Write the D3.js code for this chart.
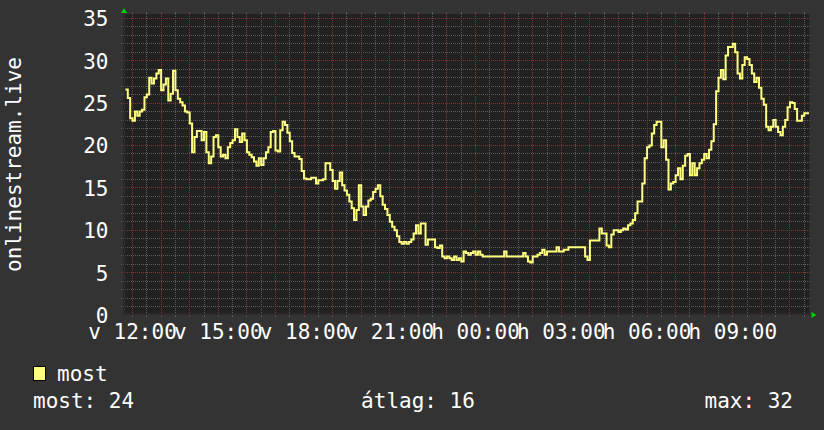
<!DOCTYPE html>
<html>
<head>
<meta charset="utf-8">
<script src="https://cdn.jsdelivr.net/npm/d3@7"></script>
<style>
    html, body { margin: 0; padding: 0; background: #333333; }
    svg { display: block; }
    text { font-family: "DejaVu Sans Mono", monospace; fill: #ffffff; }
</style>
</head>
<body>
<svg id="chart" width="824" height="430"></svg>
<script>
/* ============================================
   onlinestream.live - nézők száma (24 óra)
   ============================================ */

// 5 perces minták, első minta 11:45-kor (vasárnap)
const startTime = Date.UTC(2024, 5, 9, 11, 45);
const stepMinutes = 5;

// soronként egy óra (12 minta)
const values = [
    26.6, 25.6, 23.2, 22.9, 24, 23.5, 24, 24.2, 25.7, 26, 28, 27.3,
    27.9, 28.5, 28.9, 26.5, 27.2, 27.9, 25.3, 26.1, 28.8, 26.5, 25.5, 25.1,
    24.7, 24, 23.9, 22.6, 19.2, 21, 21.7, 21.7, 20.6, 21.6, 19.2, 17.9,
    18.7, 21, 21.2, 19.8, 18.7, 18.9, 18.5, 19.8, 20.3, 20.6, 21.9, 21,
    20.4, 21.4, 20.6, 19.2, 18.9, 18.6, 18.1, 17.6, 18.5, 17.7, 18.5, 19.2,
    19.8, 21.6, 21.7, 19.4, 19.3, 21.8, 22.8, 22.4, 21.5, 20.5, 19.1, 18.7,
    18.7, 18.4, 17, 16.1, 16, 16, 16.2, 16.2, 15.5, 15.9, 15.9, 16,
    17.9, 17.9, 17.1, 15.8, 14.9, 15.8, 16.8, 15.3, 14.7, 14.2, 13.4, 12.6,
    11.2, 12.4, 15.3, 12.8, 11.8, 12.8, 13.5, 13.7, 14.5, 14.9, 15.3, 14,
    13, 12.5, 11.8, 11, 10.4, 10, 9.3, 8.6, 8.4, 8.6, 8.4, 8.6,
    8.9, 9.6, 10.6, 9.6, 10.8, 10.8, 8.3, 8.9, 8.9, 8.9, 8, 7.9,
    8.2, 6.9, 6.7, 6.9, 6.7, 6.5, 6.9, 6.5, 6.7, 6.3, 7.5, 7.3,
    7.1, 7.3, 7.5, 7.1, 7.5, 7.1, 6.9, 6.9, 6.9, 6.9, 6.9, 6.9,
    6.9, 6.9, 6.9, 7.5, 6.9, 6.9, 6.9, 6.9, 6.9, 6.9, 6.9, 7.3,
    6.9, 6.3, 6.2, 6.9, 6.9, 7.1, 7.3, 7.7, 7.1, 7.5, 7.5, 7.5,
    7.5, 8, 7.5, 7.5, 7.7, 7.7, 8, 8, 8, 8, 8, 8,
    8, 6.9, 6.5, 8.8, 8.8, 8.8, 8.8, 10.2, 9.6, 9.6, 8.2, 8,
    9.5, 10, 10, 9.8, 10, 10.2, 10.1, 10.6, 10.8, 11.2, 12, 13.4,
    13.4, 15.5, 18.5, 19.8, 20, 21.4, 22.4, 22.8, 22.8, 19.8, 20.6, 18.3,
    14.8, 15.5, 15.7, 16.5, 17.3, 16, 17.6, 18.8, 19, 16.5, 17.9, 16.5,
    17.3, 17.9, 18.3, 19, 18.5, 19.5, 20.5, 22.5, 26.4, 28, 28.9, 27.8,
    30.6, 31.6, 31.6, 32, 31, 28.5, 27.9, 29.5, 30.4, 30.2, 29.5, 28.5,
    27.5, 28, 26.8, 25.5, 24.8, 22.2, 21.8, 22.2, 23, 22.2, 21.6, 21.2,
    22.2, 23, 24.5, 25.1, 25, 24.3, 22.9, 22.9, 23.5, 23.8, 23.8
];

const yTicks = [0, 5, 10, 15, 20, 25, 30, 35];
const dayNames = ['v', 'h', 'k', 'sze', 'cs', 'p', 'szo'];   // vasárnap, hétfő, ...
const yLabel = 'onlinestream.live';
const seriesName = 'most';
const statLabels = ['most', 'átlag', 'max'];
const statValues = [24, 16, 32];

// Méretek
const W = 824, H = 430;
const plot = { left: 123.5, right: 809.5, top: 14, bottom: 315 };
const lineColor = '#ffff80';
const minorColor = '#5c5c5c';
const majorColor = '#803838';

const svg = d3.select('#chart');

const domainStart = new Date(Date.UTC(2024, 5, 9, 11, 41));
const domainEnd = new Date(domainStart.getTime() + 24 * 3600 * 1000);

const x = d3.scaleUtc().domain([domainStart, domainEnd]).range([plot.left, plot.right]);
const y = d3.scaleLinear().domain([0, 35]).range([plot.bottom, 18.3]);

const data = values.map((v, i) => ({ t: new Date(startTime + i * stepMinutes * 60000), v }));
// utolsó lépcső lezárása
data.push({ t: new Date(startTime + values.length * stepMinutes * 60000), v: values[values.length - 1] });

// Háttér
svg.append('rect').attr('width', W).attr('height', H).attr('fill', '#333333');
svg.append('rect')
    .attr('x', plot.left).attr('y', plot.top)
    .attr('width', plot.right - plot.left).attr('height', plot.bottom - plot.top)
    .attr('fill', '#212121');

const grid = svg.append('g');
const px = v => Math.floor(v) + 0.5;

// pontozott vonal segédfüggvények
function hLines(cls, vals, color) {
    grid.selectAll('.' + cls).data(vals).enter().append('line')
        .attr('class', cls)
        .attr('x1', Math.floor(plot.left) - 2).attr('x2', Math.ceil(plot.right) + 1)
        .attr('y1', d => px(y(d))).attr('y2', d => px(y(d)))
        .attr('stroke', color).attr('stroke-dasharray', '1,1');
}
function vLines(cls, vals, color) {
    const g = grid.selectAll('.' + cls).data(vals).enter().append('g').attr('class', cls);
    g.append('line')
        .attr('x1', d => px(x(d))).attr('x2', d => px(x(d)))
        .attr('y1', plot.top).attr('y2', plot.bottom)
        .attr('stroke', color).attr('stroke-dasharray', '1,1');
    // kis jelölők a rajzterület szélein
    g.append('line')
        .attr('x1', d => px(x(d))).attr('x2', d => px(x(d)))
        .attr('y1', plot.top - 2).attr('y2', plot.top)
        .attr('stroke', color);
    g.append('line')
        .attr('x1', d => px(x(d))).attr('x2', d => px(x(d)))
        .attr('y1', plot.bottom).attr('y2', plot.bottom + 2)
        .attr('stroke', color);
}

// Rács: 1-es lépés / 5-ös fő vonal, 30 perc / óránként fő vonal
hLines('hminor', d3.range(1, 36).filter(v => v % 5 !== 0), minorColor);
vLines('vminor', x.ticks(d3.utcMinute.every(30)).filter(d => d.getUTCMinutes() !== 0), minorColor);
vLines('vmajor', x.ticks(d3.utcHour.every(1)), majorColor);
hLines('hmajor', yTicks.filter(v => v > 0), majorColor);

// Tengelyek
grid.append('line')
    .attr('x1', plot.left + 1).attr('x2', plot.left + 1)
    .attr('y1', plot.top).attr('y2', plot.bottom)
    .attr('stroke', '#2b2b2b').attr('stroke-width', 2);
grid.append('line')
    .attr('x1', plot.left).attr('x2', plot.right)
    .attr('y1', plot.bottom - 1).attr('y2', plot.bottom - 1)
    .attr('stroke', '#2b2b2b').attr('stroke-width', 2);

// Adatvonal
const line = d3.line()
    .x(d => x(d.t))
    .y(d => y(d.v))
    .curve(d3.curveStepAfter);

svg.append('path')
    .datum(data)
    .attr('fill', 'none')
    .attr('stroke', lineColor)
    .attr('stroke-width', 2)
    .attr('d', line);

// Nyilak (zöld)
const arrowColor = '#00d000';
svg.append('path')
    .attr('d', `M${plot.left - 2.5},${plot.top - 1} L${plot.left + 3.5},${plot.top - 1} L${plot.left + 0.5},${plot.top - 6} Z`)
    .attr('fill', arrowColor);
svg.append('path')
    .attr('d', `M${plot.right + 2},${plot.bottom - 3} L${plot.right + 2},${plot.bottom + 3} L${plot.right + 7},${plot.bottom} Z`)
    .attr('fill', arrowColor);

// Y tengely feliratai
svg.selectAll('.ylab').data(yTicks).enter().append('text')
    .attr('x', 108.5)
    .attr('y', d => y(d) + 8)
    .attr('text-anchor', 'end')
    .attr('font-size', '21px')
    .text(d => d);

// X tengely feliratai (3 óránként)
const fmtTime = d3.utcFormat('%H:%M');
svg.selectAll('.xlab').data(x.ticks(d3.utcHour.every(3))).enter().append('text')
    .attr('x', d => x(d))
    .attr('y', 339)
    .attr('text-anchor', 'middle')
    .attr('font-size', '21px')
    .text(d => `${dayNames[d.getUTCDay()]} ${fmtTime(d)}`);

// Függőleges címke
svg.append('text')
    .attr('transform', `translate(13.5, ${(plot.top + plot.bottom) / 2}) rotate(-90)`)
    .attr('text-anchor', 'middle')
    .attr('dominant-baseline', 'central')
    .attr('font-size', '21px')
    .text(yLabel);

// Jelmagyarázat
svg.append('rect')
    .attr('x', 33.5).attr('y', 366.5)
    .attr('width', 12).attr('height', 14)
    .attr('fill', lineColor).attr('stroke', '#000000');
svg.append('text')
    .attr('x', 57).attr('y', 381)
    .attr('font-size', '21px')
    .text(seriesName);

// Statisztika
const statX = [33, 418, 793];
const statAnchor = ['start', 'middle', 'end'];
statLabels.forEach((lab, i) => {
    svg.append('text')
        .attr('x', statX[i]).attr('y', 408)
        .attr('text-anchor', statAnchor[i])
        .attr('font-size', '21px')
        .text(`${lab}: ${statValues[i]}`);
});
</script>
</body>
</html>
